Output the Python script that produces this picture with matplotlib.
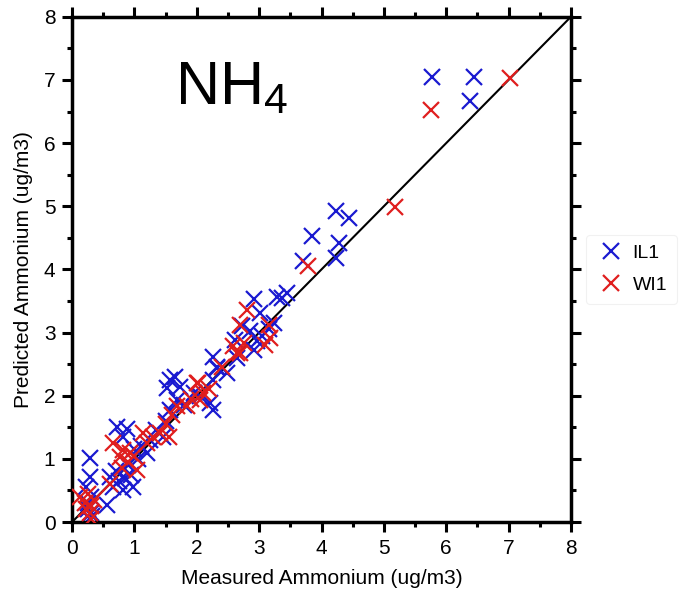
import matplotlib.pyplot as plt
import numpy as np

plt.rcParams['font.family'] = ['Liberation Sans', 'DejaVu Sans']
plt.rcParams['mathtext.fontset'] = 'custom'
plt.rcParams['mathtext.rm'] = 'Liberation Sans'

# ── Data ────────────────────────────────────────────────────────────────────
il1_measured = [5.77, 6.44, 6.38, 4.24, 4.44, 3.84, 4.28, 4.24, 3.71,
                2.91, 3.28, 3.44, 3.36, 3.01, 3.23, 2.72, 2.85, 2.96, 2.61,
                2.64, 2.32, 2.48, 2.26, 2.26, 2.32, 2.21, 2.26, 2.91, 3.05,
                3.15, 1.57, 1.65, 1.52, 1.73, 1.68, 1.57, 1.46, 1.80, 1.95,
                2.05, 1.35, 1.25, 1.10, 1.00, 1.20, 1.50, 0.72, 0.88, 0.82,
                0.61, 0.66, 0.82, 0.98, 0.56, 0.28, 0.29, 0.23, 0.30, 0.25,
                0.30, 0.28, 0.32, 0.25, 0.70, 0.90, 1.05, 0.75, 0.85, 0.95]
il1_predicted = [7.04, 7.04, 6.66, 4.93, 4.82, 4.53, 4.42, 4.18, 4.13,
                 3.53, 3.57, 3.62, 3.55, 3.31, 3.15, 3.10, 3.02, 2.86, 2.88,
                 2.59, 2.44, 2.36, 2.25, 2.62, 2.46, 1.88, 1.77, 2.73, 2.95,
                 3.05, 2.25, 2.30, 2.12, 2.14, 1.93, 1.77, 1.35, 1.85, 2.05,
                 2.00, 1.45, 1.30, 1.20, 1.15, 1.10, 1.60, 1.51, 1.48, 1.35,
                 0.72, 0.56, 0.51, 0.56, 0.27, 1.01, 0.72, 0.56, 0.40, 0.30,
                 0.15, 0.05, 0.10, 0.20, 0.80, 0.90, 1.00, 0.65, 0.70, 0.75]

wi1_measured = [7.02, 5.75, 5.18, 3.78, 2.80, 2.69, 3.15, 3.09, 3.17, 2.58,
                2.64, 2.02, 2.75, 2.69, 2.00, 2.10, 2.05, 1.68, 1.84, 2.20,
                2.40, 1.50, 1.30, 1.41, 1.14, 1.60, 1.90, 1.55, 0.66, 0.82,
                0.77, 0.93, 1.04, 0.13, 0.29, 0.20, 0.25, 0.30, 0.22, 0.35,
                0.30, 0.60, 0.90, 1.00, 1.20, 0.80]
wi1_predicted = [7.03, 6.52, 4.99, 4.05, 3.35, 3.12, 3.12, 2.80, 2.92, 2.78,
                 2.67, 2.20, 2.83, 2.67, 2.20, 2.04, 1.93, 1.83, 1.83, 2.10,
                 2.45, 1.55, 1.35, 1.41, 1.41, 1.70, 1.95, 1.35, 1.25, 1.14,
                 1.03, 1.09, 0.82, 0.40, 0.14, 0.30, 0.45, 0.25, 0.20, 0.35,
                 0.05, 0.60, 0.95, 1.05, 1.25, 0.85]

# ── Figure ─────────────────────────────────────────────────────────────────
fig = plt.figure(figsize=(6.87, 6.0), dpi=100)
ax = fig.add_axes([0.105, 0.13, 0.726, 0.842])

ax.plot([0, 8], [0, 8], color='black', linewidth=1.5, zorder=1)
ax.plot(il1_measured, il1_predicted, linestyle='none', marker='x',
        markersize=12, markeredgewidth=1.6, color='#1a1ad0', label='IL1', zorder=2)
ax.plot(wi1_measured, wi1_predicted, linestyle='none', marker='x',
        markersize=12, markeredgewidth=1.6, color='#e01e1e', label='WI1', zorder=3)

ax.set_xlim(0, 8)
ax.set_ylim(0, 8)
ax.set_xticks(np.arange(0, 9, 1))
ax.set_yticks(np.arange(0, 9, 1))
ax.set_xticks(np.arange(0.5, 8, 1), minor=True)
ax.set_yticks(np.arange(0.5, 8, 1), minor=True)
ax.tick_params(which='both', direction='out', top=True, right=True,
               labeltop=False, labelright=False, width=2.2, labelsize=15, pad=5)
ax.tick_params(which='major', length=7)
ax.tick_params(which='minor', length=3.5)
for sp in ax.spines.values():
    sp.set_linewidth(2.5)

ax.set_xlabel('Measured Ammonium (ug/m3)', fontsize=15, labelpad=8)
ax.set_ylabel('Predicted Ammonium (ug/m3)', fontsize=15, labelpad=8)

ax.text(1.65, 6.61, r'$\mathrm{NH_4}$', fontsize=44, ha='left', va='baseline')

leg = ax.legend(loc='center left', bbox_to_anchor=(1.03, 0.5), fontsize=14,
                frameon=True, handletextpad=0.3, handlelength=1.6,
                labelspacing=0.75, borderaxespad=0, borderpad=0.5)
leg.get_frame().set_edgecolor('#eeeeee')
leg.get_frame().set_linewidth(0.8)

fig.savefig('out.png', dpi=100)
